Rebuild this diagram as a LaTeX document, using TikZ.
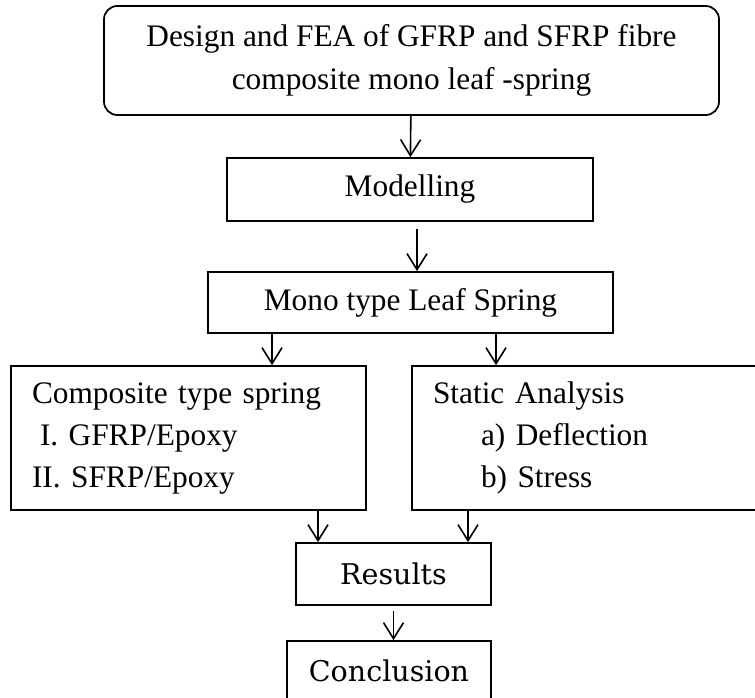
\documentclass[tikz,border=0pt]{standalone}
\usepackage{fontspec}
\setmainfont{Liberation Serif}
\newfontfamily\schfont{DejaVu Serif}
\usetikzlibrary{arrows.meta}

\begin{document}
\begin{tikzpicture}[
  x=0.75pt, y=-0.75pt,
  >={Straight Barb[length=12pt, width=15pt]},
  box/.style={draw, line width=1.3pt, inner sep=0pt, align=center,
              font=\fontsize{23.5}{32}\selectfont},
  rbox/.style={box, rounded corners=10pt},
  lbox/.style={draw, line width=1.3pt, inner xsep=15.75pt, inner ysep=0pt,
               align=left, font=\fontsize{23.5}{31.5}\selectfont},
  sbox/.style={box, font=\schfont\fontsize{21.4}{28}\selectfont},
  edge/.style={->, line width=1.2pt}]
\clip (0,0) rectangle (755,697);
\node[rbox, minimum width=461.25pt, minimum height=81.75pt] (top) at (411.5,60.5)
  {Design and FEA of GFRP and SFRP fibre\\composite mono leaf -spring};
\node[box, minimum width=274.5pt, minimum height=47.25pt] (model) at (410,189.5) {Modelling};
\node[box, minimum width=303.75pt, minimum height=45.75pt] (mono) at (410.5,302.5) {Mono type Leaf Spring};
\node[lbox, text width=234.75pt, minimum height=108pt] (comp) at (188.5,438)
  {Composite type spring\\\hspace*{6pt}I. GFRP/Epoxy\\II. SFRP/Epoxy};
\node[lbox, text width=238.5pt, minimum height=108pt] (stat) at (592,438)
  {Static Analysis\\\hspace*{36pt}a) Deflection\\\hspace*{36pt}b) Stress};
\node[sbox, minimum width=146.25pt, minimum height=46.5pt] (res) at (393.5,574) {Results};
\node[sbox, minimum width=153pt, minimum height=44.25pt] (concl) at (389,670.5) {Conclusion};
% arrow columns
\coordinate (a2) at (417,0);
\coordinate (ml) at (272,0);
\coordinate (mr) at (496,0);
\coordinate (rl) at (318,0);
\coordinate (rr) at (468,0);
\draw[edge] (top) -- (model);
\draw[edge, shorten <=5pt] (model.south -| a2) -- (mono.north -| a2);
\draw[edge] (mono.south -| ml) -- (comp.north -| ml);
\draw[edge] (mono.south -| mr) -- (stat.north -| mr);
\draw[edge] (comp.south -| rl) -- (res.north -| rl);
\draw[edge] (stat.south -| rr) -- (res.north -| rr);
\draw[edge, shorten <=3.75pt] (res.south) -- (res.south |- concl.north);
\end{tikzpicture}
\end{document}
